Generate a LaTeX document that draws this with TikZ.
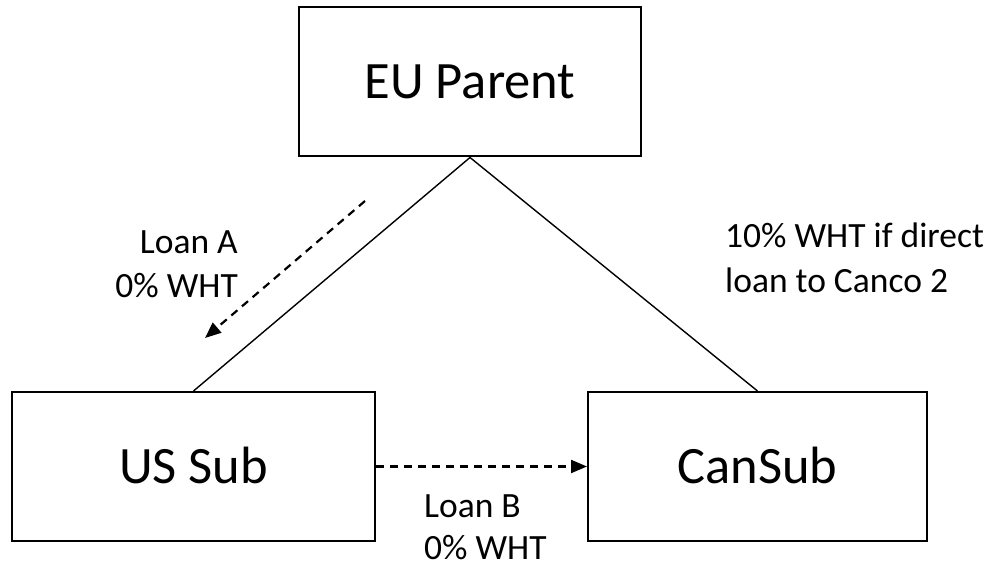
\documentclass[tikz,border=0pt]{standalone}
\usepackage{fontspec}
\setmainfont{Carlito}
\usetikzlibrary{arrows.meta}
\begin{document}
\begin{tikzpicture}[x=1pt,y=-1pt,
  entity/.style={draw=black,line width=2pt,minimum width=#1,minimum height=149pt,inner sep=0pt,
    text height=33.8pt,text depth=0pt,font=\fontsize{52.5}{63}\selectfont},
  link/.style={line width=1.4pt},
  loan/.style={line width=2.2pt,dash pattern=on 8pt off 6pt,-{Triangle[length=16pt,width=13pt]}},
  lbl/.style={font=\fontsize{35.5}{44}\selectfont,inner sep=0pt,text depth=0pt}]
\useasboundingbox (0,0) rectangle (999,564);
% the three companies
\node[entity=342pt] (eu) at (470,82) {EU Parent};
\node[entity=363pt] (us) at (193.5,466.5) {US Sub};
\node[entity=339pt] (can) at (757.5,466.5) {CanSub};
% ownership lines
\draw[link] (eu.south) -- (us.north);
\draw[link] (eu.south) -- (can.north);
% loans
\coordinate (aStart) at (365,201);
\coordinate (aEnd) at (205,338);
\draw[loan] (aStart) -- (aEnd);
\draw[loan] (us.east) -- (can.west);
% labels
\node[lbl,anchor=base east] (la1) at (238,254) {Loan A};
\node[lbl,anchor=base east] (la2) at (238,298) {0\% WHT};
\node[lbl,anchor=base west] (lb1) at (424,517) {Loan B};
\node[lbl,anchor=base west] (lb2) at (424,559) {0\% WHT};
\node[lbl,anchor=base west] (lc1) at (725,248) {10\% WHT if direct};
\node[lbl,anchor=base west] (lc2) at (725,292) {loan to Canco 2};
\end{tikzpicture}
\end{document}
